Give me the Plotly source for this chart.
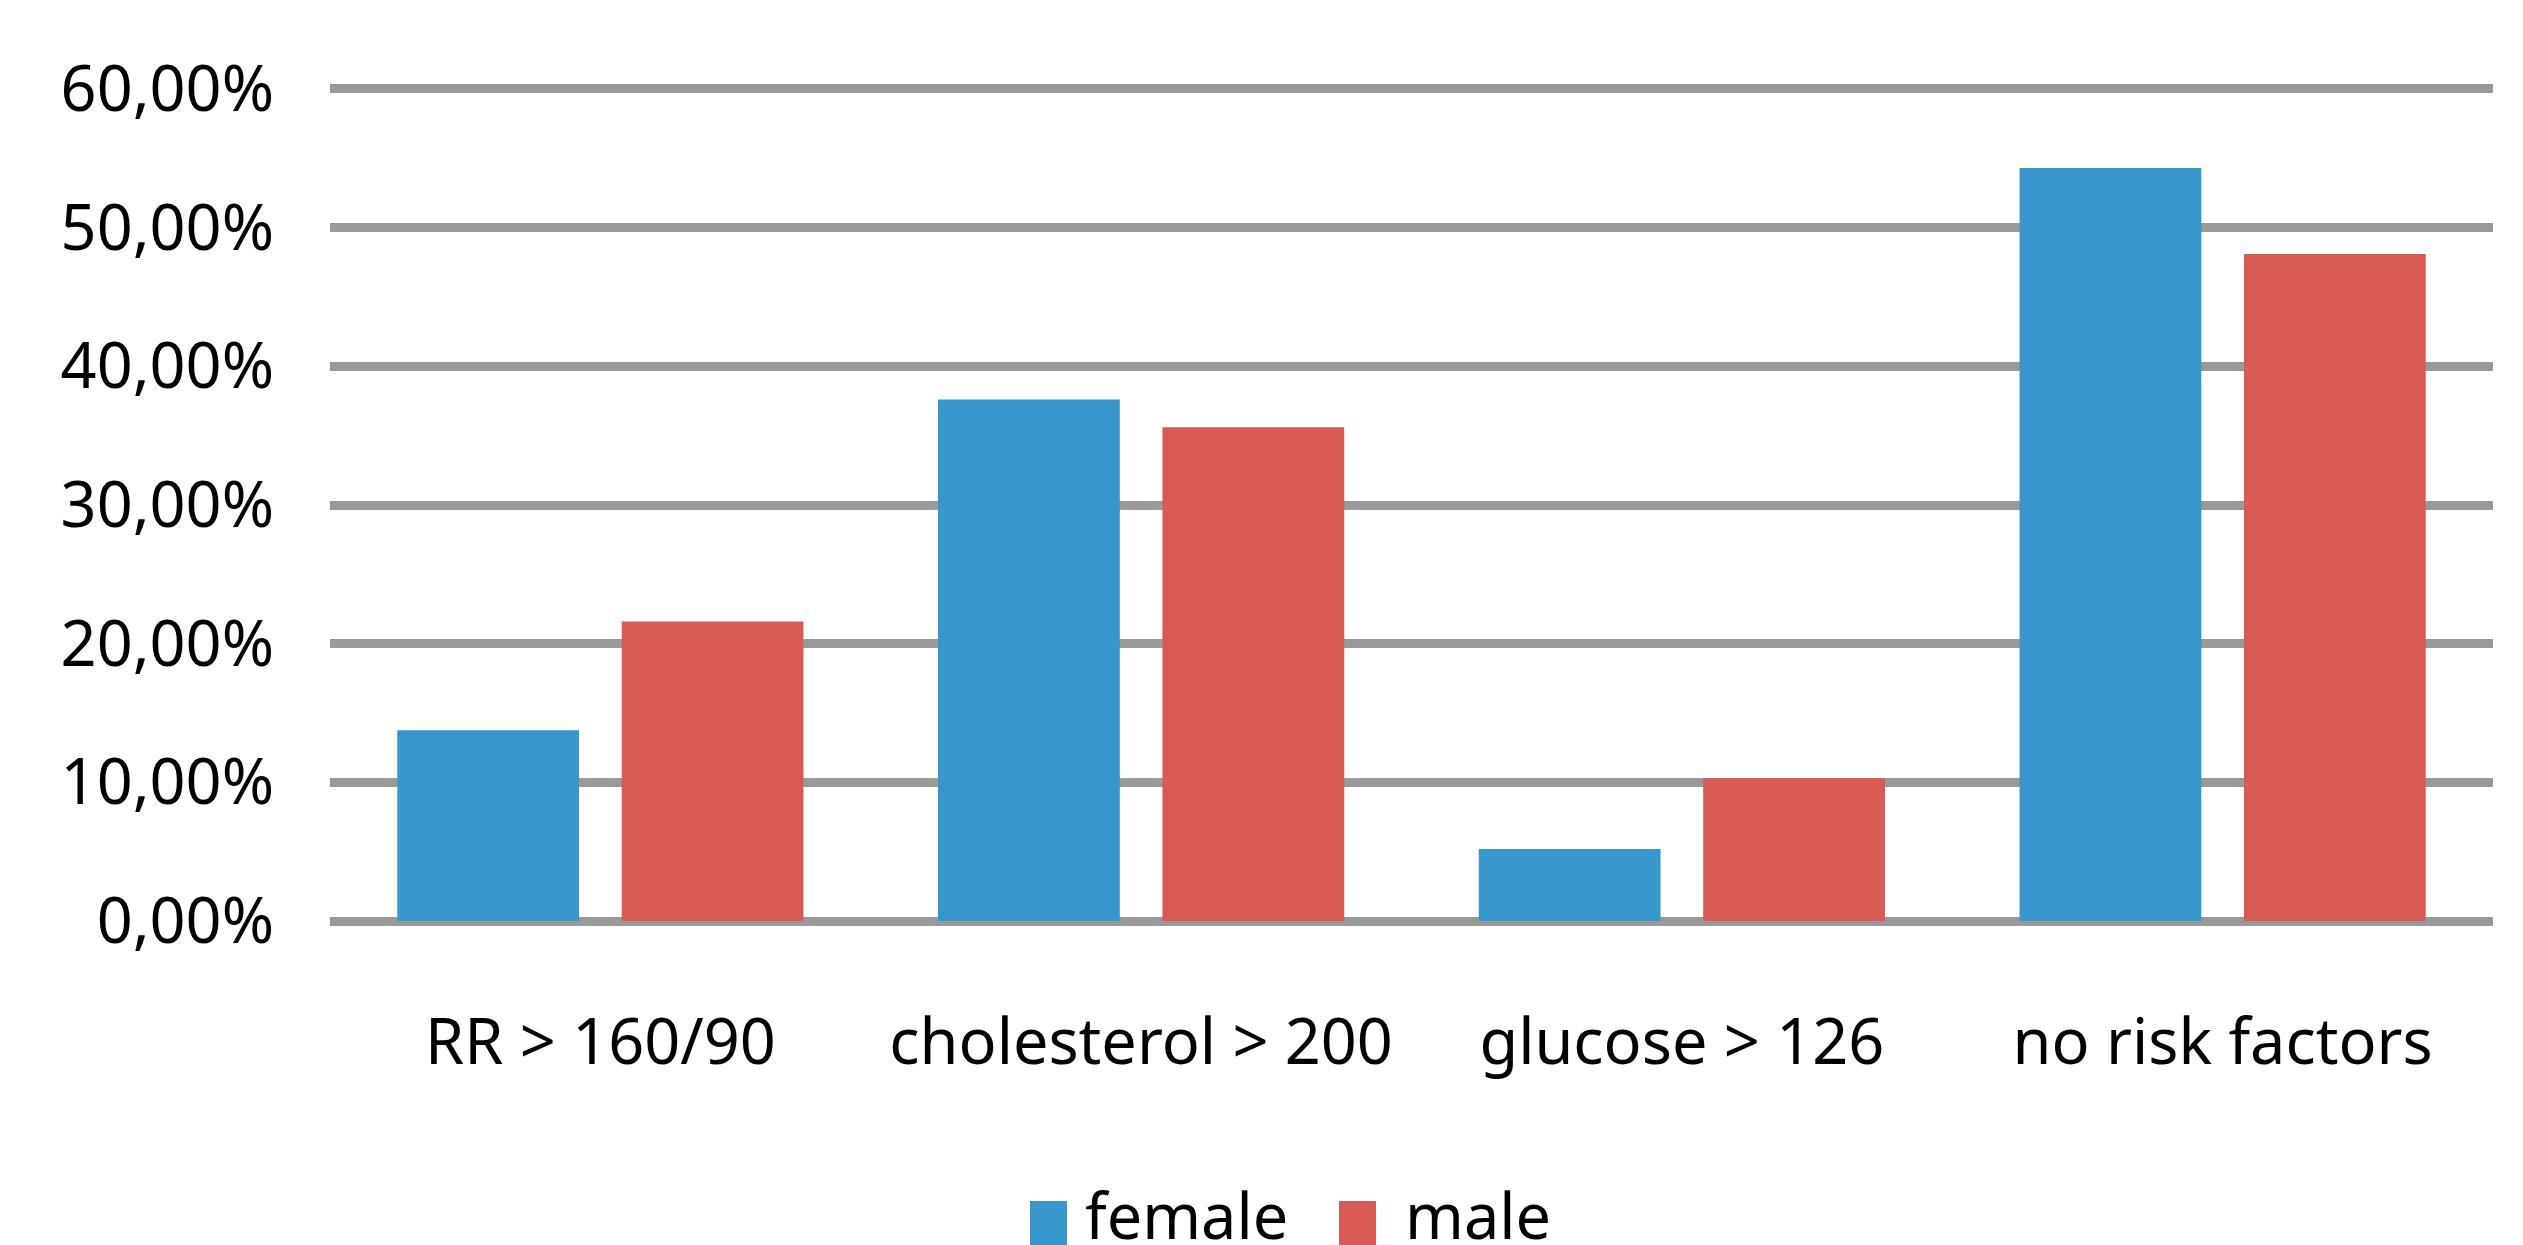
import plotly.graph_objects as go

categories = ["RR > 160/90", "cholesterol > 200", "glucose > 126", "no risk factors"]
female = [13.75, 37.6, 5.2, 54.3]
male = [21.6, 35.6, 10.3, 48.1]
series_names = ["female", "male"]
colors = ["#3796CC", "#D85A54"]
tick_vals = [0, 10, 20, 30, 40, 50, 60]
tick_text = ["0,00%", "10,00%", "20,00%", "30,00%", "40,00%", "50,00%", "60,00%"]

W, H = 2523, 1245
ml, mr, mt, mb = 330, 30, 82, 317
FONT = "Noto Sans"
FS = 63

fig = go.Figure()
for name, vals, col in zip(series_names, [female, male], colors):
    fig.add_trace(go.Bar(x=categories, y=vals, name=name,
                         marker=dict(color=col, line=dict(width=0)),
                         showlegend=False))

fig.update_layout(
    width=W, height=H,
    margin=dict(l=ml, r=mr, t=mt, b=mb, pad=0),
    paper_bgcolor="white", plot_bgcolor="white",
    barmode="group", bargap=0.17, bargroupgap=0.19,
    font=dict(family=FONT, size=FS, color="black"),
)
fig.update_xaxes(showline=False, ticks="", showgrid=False,
                 tickfont=dict(family=FONT, size=FS, color="black"),
                 ticklabelstandoff=72)
fig.update_yaxes(range=[-0.5, 60.5], tickvals=tick_vals, ticktext=tick_text,
                 showgrid=True, gridcolor="#999999", gridwidth=9,
                 zeroline=False, showline=False, ticks="",
                 tickfont=dict(family=FONT, size=FS, color="black"),
                 ticklabelstandoff=55)

# manual legend with large square swatches
pw = W - ml - mr
ph = H - mt - mb
def px_x(p):
    return (p - ml) / pw
def px_y(p):
    return (H - mb - p) / ph

legend_items = [(1030, 1083), (1339, 1403)]
for (sx, tx), name, col in zip(legend_items, series_names, colors):
    fig.add_shape(type="rect", xref="paper", yref="paper",
                  x0=px_x(sx), x1=px_x(sx + 37), y0=px_y(1245), y1=px_y(1201),
                  fillcolor=col, line=dict(width=0))
    fig.add_annotation(xref="paper", yref="paper", x=px_x(tx), y=px_y(1214),
                       text=name, showarrow=False, xanchor="left", yanchor="middle",
                       font=dict(family=FONT, size=FS, color="black"))

fig.write_html("out.html", config={"displayModeBar": False},
               post_script="document.body.style.margin='0';document.body.style.overflow='hidden';")
